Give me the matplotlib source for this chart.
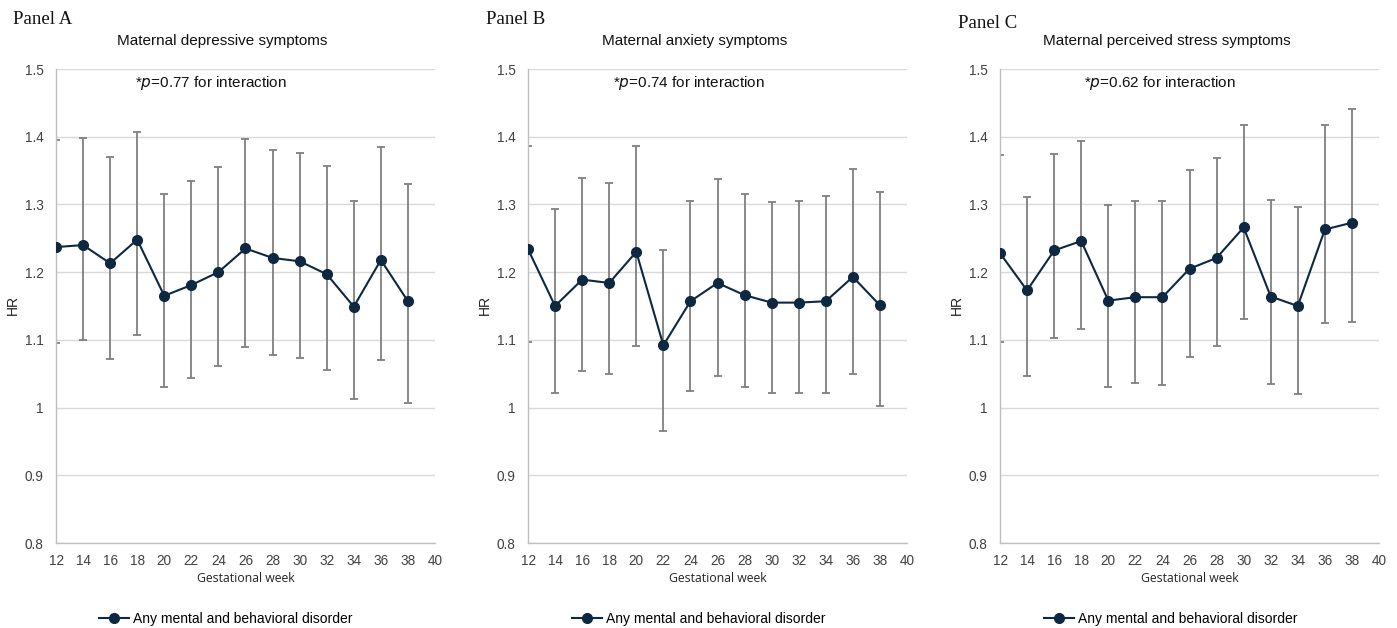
import matplotlib
matplotlib.use("Agg")
import matplotlib.pyplot as plt
from matplotlib.lines import Line2D

# Gestational weeks (shared by all panels)
weeks = [12, 14, 16, 18, 20, 22, 24, 26, 28, 30, 32, 34, 36, 38]

# Panel A - maternal depressive symptoms
hr_a = [1.237, 1.240, 1.213, 1.248, 1.165, 1.181, 1.200, 1.235, 1.221, 1.216, 1.197, 1.149, 1.218, 1.157]
up_a = [1.395, 1.398, 1.370, 1.407, 1.316, 1.335, 1.356, 1.397, 1.381, 1.376, 1.357, 1.305, 1.385, 1.330]
lo_a = [1.096, 1.100, 1.072, 1.107, 1.030, 1.044, 1.061, 1.090, 1.078, 1.073, 1.055, 1.012, 1.070, 1.007]

# Panel B - maternal anxiety symptoms
hr_b = [1.234, 1.150, 1.189, 1.184, 1.230, 1.092, 1.157, 1.184, 1.166, 1.155, 1.155, 1.157, 1.193, 1.151]
up_b = [1.386, 1.293, 1.339, 1.332, 1.386, 1.233, 1.305, 1.337, 1.316, 1.304, 1.305, 1.312, 1.352, 1.319]
lo_b = [1.097, 1.021, 1.054, 1.049, 1.091, 0.966, 1.024, 1.046, 1.030, 1.022, 1.021, 1.022, 1.050, 1.002]

# Panel C - maternal perceived stress symptoms
hr_c = [1.228, 1.173, 1.232, 1.246, 1.158, 1.163, 1.163, 1.205, 1.221, 1.266, 1.164, 1.150, 1.263, 1.273]
up_c = [1.373, 1.311, 1.375, 1.393, 1.299, 1.305, 1.305, 1.351, 1.369, 1.418, 1.306, 1.296, 1.418, 1.441]
lo_c = [1.097, 1.047, 1.103, 1.116, 1.031, 1.036, 1.034, 1.074, 1.091, 1.131, 1.035, 1.020, 1.125, 1.126]

panel_labels = ["Panel A", "Panel B", "Panel C"]
titles = ["Maternal depressive symptoms", "Maternal anxiety symptoms",
          "Maternal perceived stress symptoms"]
p_texts = ["0.77", "0.74", "0.62"]
series_name = "Any mental and behavioral disorder"

LINE_COLOR = "#0e2841"
ERR_COLOR = "#7f7f7f"
GRID_COLOR = "#d9d9d9"
SANS = "Liberation Sans"

W, H = 1397, 628
fig = plt.figure(figsize=(W / 100, H / 100), dpi=100)

# pixel geometry
ax_lefts = [56, 528, 1000]
ax_width = 379
ax_top, ax_bottom = 69, 543
label_pos = [(13, 20), (486, 20), (958, 23)]
title_cx = [222, 695, 1167]
note_x = [135, 613, 1084]
legend_x = [98, 571, 1043]

data = [(hr_a, lo_a, up_a), (hr_b, lo_b, up_b), (hr_c, lo_c, up_c)]

for i, (hr, lo, up) in enumerate(data):
    ax = fig.add_axes([ax_lefts[i] / W, 1 - ax_bottom / H,
                       ax_width / W, (ax_bottom - ax_top) / H])
    yerr = [[h - l for h, l in zip(hr, lo)], [u - h for h, u in zip(hr, up)]]
    ax.errorbar(weeks, hr, yerr=yerr, fmt="none", ecolor=ERR_COLOR,
                elinewidth=1.3, capsize=3, capthick=1.3, zorder=2)
    ax.plot(weeks, hr, color=LINE_COLOR, linewidth=1.5, marker="o",
            markersize=7, zorder=3)

    ax.set_xlim(12, 40)
    ax.set_ylim(0.8, 1.5)
    ax.set_xticks(range(12, 41, 2))
    ax.set_yticks([0.8, 0.9, 1.0, 1.1, 1.2, 1.3, 1.4, 1.5])
    ax.set_yticklabels(["0.8", "0.9", "1", "1.1", "1.2", "1.3", "1.4", "1.5"])
    ax.tick_params(length=0, labelsize=9.8, colors="#404040")
    ax.tick_params(axis="y", pad=9)
    ax.tick_params(axis="x", pad=8)
    for lab in ax.get_xticklabels() + ax.get_yticklabels():
        lab.set_fontfamily(SANS)
    ax.grid(axis="y", color=GRID_COLOR, linewidth=1.0)
    ax.set_axisbelow(True)
    for s in ("top", "right"):
        ax.spines[s].set_visible(False)
    ax.spines["left"].set_color("#bfbfbf")
    ax.spines["bottom"].set_color("#bfbfbf")
    ax.spines["left"].set_linewidth(1.0)
    ax.spines["bottom"].set_linewidth(1.0)

    # y label and x label
    fig.text((ax_lefts[i] - 43) / W, 1 - 305 / H, "HR", rotation=90,
             ha="center", va="center", fontsize=10, family=SANS, color="#222222")
    fig.text((ax_lefts[i] + 190) / W, 1 - 579 / H, "Gestational week",
             ha="center", va="center", fontsize=8.8, family="Open Sans", color="#222222")

    # panel label, title, p-value note
    lx, ly = label_pos[i]
    fig.text(lx / W, 1 - ly / H, panel_labels[i], ha="left", va="center",
             fontsize=13.5, family="Liberation Serif", color="#111111")
    fig.text(title_cx[i] / W, 1 - 41 / H, titles[i], ha="center", va="center",
             fontsize=11, family=SANS, color="#111111")
    fig.text(note_x[i] / W, 1 - 83 / H, "*$\\mathit{p}$=" + p_texts[i] + " for interaction",
             ha="left", va="center", fontsize=11, family=SANS, color="#111111")

    # legend below each panel
    handle = Line2D([], [], color=LINE_COLOR, linewidth=1.5, marker="o", markersize=7)
    fig.legend([handle], [series_name], loc="center left",
               bbox_to_anchor=((legend_x[i] - 12) / W, 1 - 619 / H),
               frameon=False, handlelength=2.2, handletextpad=0.3,
               prop={"family": SANS, "size": 10})

fig.savefig("out.png", dpi=100)
